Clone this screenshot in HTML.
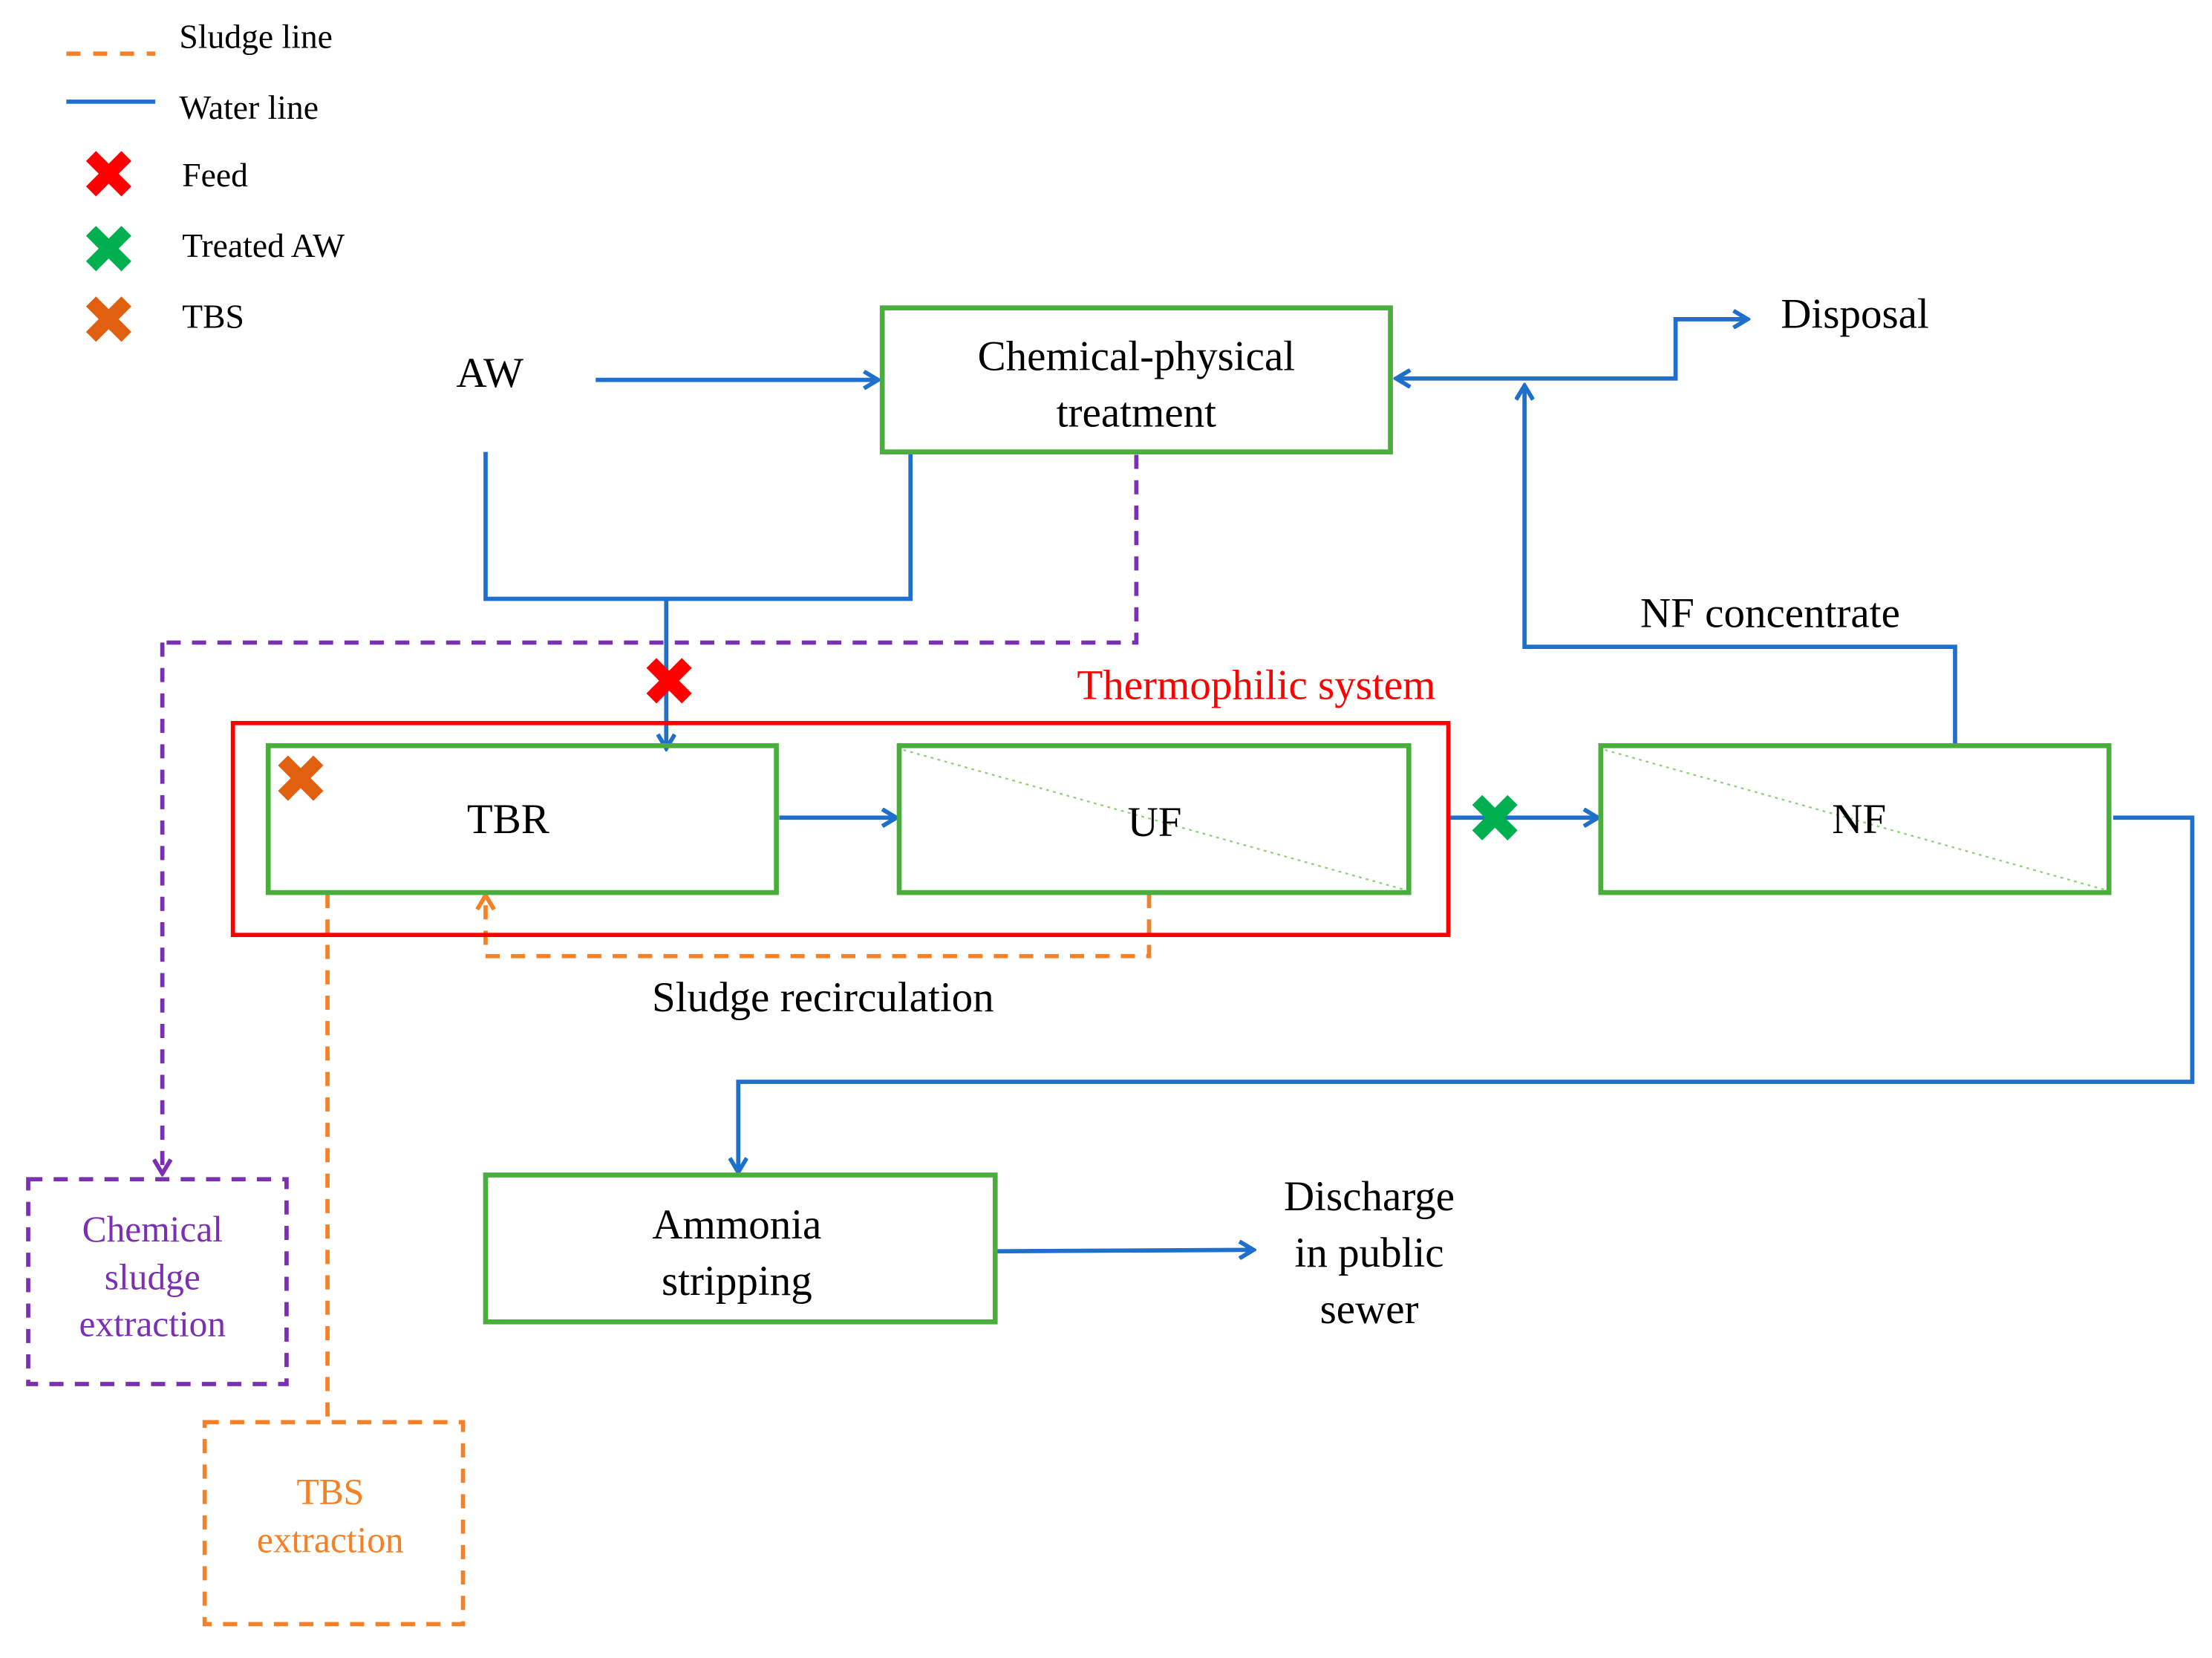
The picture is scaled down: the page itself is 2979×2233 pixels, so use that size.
<!DOCTYPE html>
<html><head><meta charset="utf-8"><style>html,body{margin:0;padding:0;background:#fff}svg{display:block}text{font-family:"Liberation Serif","DejaVu Serif",serif}</style></head>
<body>
<svg width="2979" height="2233" viewBox="0 0 1567 1174" preserveAspectRatio="none" xmlns="http://www.w3.org/2000/svg">
<defs>
<marker id="ab" markerWidth="14" markerHeight="14" refX="12" refY="7" orient="auto" markerUnits="userSpaceOnUse" viewBox="0 0 14 14"><path d="M2,1 L12,7 L2,13" fill="none" stroke="#1f6fcc" stroke-width="3"/></marker>
<marker id="ao" markerWidth="14" markerHeight="14" refX="12" refY="7" orient="auto" markerUnits="userSpaceOnUse" viewBox="0 0 14 14"><path d="M2,1 L12,7 L2,13" fill="none" stroke="#f58025" stroke-width="3"/></marker>
<marker id="ap" markerWidth="14" markerHeight="14" refX="12" refY="7" orient="auto" markerUnits="userSpaceOnUse" viewBox="0 0 14 14"><path d="M2,1 L12,7 L2,13" fill="none" stroke="#7b2fb3" stroke-width="3"/></marker>
<g id="x"><path d="M-9,-9 L9,9 M9,-9 L-9,9" stroke-width="10" stroke-linecap="square"/></g>
</defs>
<rect width="1567" height="1174" fill="#fff"/>
<line x1="47" y1="38" x2="110" y2="38" stroke="#f58025" stroke-width="3" stroke-dasharray="10,9"/>
<line x1="47" y1="72" x2="110" y2="72" stroke="#1f6fcc" stroke-width="3"/>
<use href="#x" x="77" y="123" stroke="#ff0000"/>
<use href="#x" x="77" y="176" stroke="#00b050"/>
<use href="#x" x="77" y="226" stroke="#e06010"/>
<g font-size="24" fill="#000">
<text x="127" y="34">Sludge line</text>
<text x="127" y="84">Water line</text>
<text x="129" y="132">Feed</text>
<text x="129" y="182">Treated AW</text>
<text x="129" y="232">TBS</text>
</g>
<g stroke="#1f6fcc" stroke-width="3" fill="none">
<line x1="422" y1="269" x2="622" y2="269" marker-end="url(#ab)"/>
<polyline points="1238,226 1187,226 1187,268 989,268" marker-end="url(#ab)"/>
<line x1="1187" y1="226" x2="1238" y2="226" marker-end="url(#ab)"/>
<polyline points="1385,527 1385,458 1080,458 1080,273" marker-end="url(#ab)"/>
<polyline points="344,320 344,424 645,424 645,320"/>
<line x1="472" y1="424" x2="472" y2="530" marker-end="url(#ab)"/>
<line x1="552" y1="579" x2="635" y2="579" marker-end="url(#ab)"/>
<line x1="1027" y1="579" x2="1132" y2="579" marker-end="url(#ab)"/>
<polyline points="1497,579 1553,579 1553,766 523,766 523,830" marker-end="url(#ab)"/>
<line x1="706" y1="886" x2="888" y2="885" marker-end="url(#ab)"/>
</g>
<g stroke="#7b2fb3" stroke-width="3" fill="none" stroke-dasharray="10,8">
<polyline points="805,322 805,455 110,455"/>
<line x1="115" y1="455" x2="115" y2="831" marker-end="url(#ap)"/>
<rect x="20" y="835" width="183" height="145"/>
</g>
<g stroke="#f58025" stroke-width="3" fill="none" stroke-dasharray="10,8">
<polyline points="814,633 814,677 344,677 344,634" marker-end="url(#ao)"/>
<line x1="232" y1="633" x2="232" y2="1006"/>
<rect x="145" y="1007" width="183" height="143"/>
</g>
<rect x="165" y="512" width="861" height="150" fill="none" stroke="#ff0000" stroke-width="3"/>
<g fill="none" stroke="#4aae3c" stroke-width="3.5">
<rect x="625" y="218" width="360" height="102"/>
<rect x="190" y="528" width="360" height="104"/>
<rect x="637" y="528" width="361" height="104"/>
<rect x="1134" y="528" width="360" height="104"/>
<rect x="344" y="832" width="361" height="104"/>
</g>
<line x1="640" y1="531" x2="995" y2="630" stroke="#8fd07a" stroke-width="1.2" stroke-dasharray="2,3"/>
<line x1="1137" y1="531" x2="1491" y2="630" stroke="#8fd07a" stroke-width="1.2" stroke-dasharray="2,3"/>
<use href="#x" x="474" y="482" stroke="#ff0000"/>
<use href="#x" x="213" y="551" stroke="#e06010"/>
<use href="#x" x="1059" y="579" stroke="#00b050"/>
<g font-size="30" fill="#000" text-anchor="middle">
<text x="347" y="274">AW</text>
<text x="805" y="262">Chemical-physical</text>
<text x="805" y="302">treatment</text>
<text x="1314" y="232">Disposal</text>
<text x="1254" y="444">NF concentrate</text>
<text x="360" y="590">TBR</text>
<text x="818" y="592">UF</text>
<text x="1317" y="590">NF</text>
<text x="583" y="716">Sludge recirculation</text>
<text x="522" y="877">Ammonia</text>
<text x="522" y="917">stripping</text>
<text x="970" y="857">Discharge</text>
<text x="970" y="897">in public</text>
<text x="970" y="937">sewer</text>
</g>
<text x="1017" y="495" font-size="30" fill="#ff0000" text-anchor="end">Thermophilic system</text>
<g font-size="26" fill="#7b2fb3" text-anchor="middle">
<text x="108" y="879">Chemical</text>
<text x="108" y="913">sludge</text>
<text x="108" y="946">extraction</text>
</g>
<g font-size="26" fill="#f58025" text-anchor="middle">
<text x="234" y="1065">TBS</text>
<text x="234" y="1099">extraction</text>
</g>
</svg>
</body></html>
